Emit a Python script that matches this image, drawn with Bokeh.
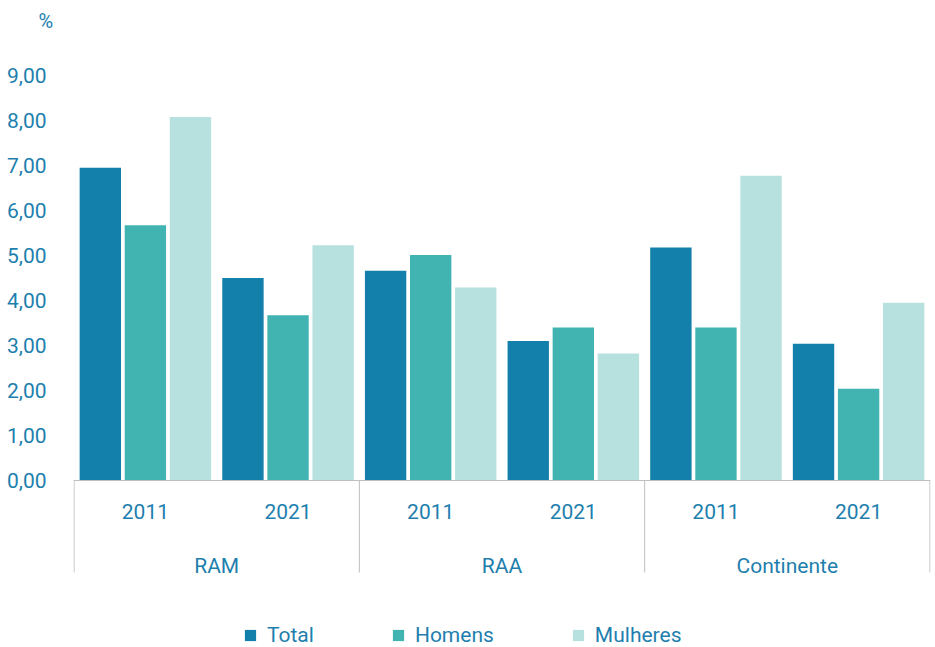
from bokeh.plotting import figure
from bokeh.models import FactorRange, Range1d, FixedTicker, ColumnDataSource, Span
from bokeh.transform import dodge
from bokeh.core.properties import value
from bokeh.embed import file_html
from bokeh.resources import INLINE

# ---------------- data ----------------
regions = ["RAM", "RAA", "Continente"]
years = ["2011", "2021"]
series_names = ["Total", "Homens", "Mulheres"]
total = [6.95, 4.50, 4.66, 3.10, 5.18, 3.04]
homens = [5.67, 3.67, 5.01, 3.40, 3.40, 2.04]
mulheres = [8.08, 5.23, 4.29, 2.82, 6.77, 3.95]
y_ticks = [0, 1, 2, 3, 4, 5, 6, 7, 8, 9]
y_tick_labels = ["0,00", "1,00", "2,00", "3,00", "4,00", "5,00", "6,00", "7,00", "8,00", "9,00"]
unit_label = "%"

# ---------------- style ----------------
COLORS = ["#137fab", "#41b3b0", "#b7e1de"]
TEXT = "#1e7fae"
LINE = "#bfbfbf"
FONT = "Roboto"

W, H = 935, 647
BORDER_L, BORDER_T, BORDER_R, BORDER_B = 73, 35, 5, 0
PX_PER_UNIT = 45.0
ZERO_Y = 480.0
frame_top = BORDER_T
frame_bottom = H - BORDER_B
y_end = (ZERO_Y - frame_top) / PX_PER_UNIT
y_start = -(frame_bottom - ZERO_Y) / PX_PER_UNIT

YEAR_LABEL_Y = -31.0 / PX_PER_UNIT
REGION_LABEL_Y = -85.0 / PX_PER_UNIT
SEP_BOTTOM_Y = -92.0 / PX_PER_UNIT

factors = [(r, y) for r in regions for y in years]
src = ColumnDataSource(dict(x=factors, Total=total, Homens=homens, Mulheres=mulheres))

x_range = FactorRange(*factors, factor_padding=0, group_padding=0, subgroup_padding=0,
                      range_padding=0.004, range_padding_units="absolute")

p = figure(width=W, height=H, x_range=x_range, y_range=Range1d(y_start, y_end),
           output_backend="svg", toolbar_location=None, x_axis_location=None,
           min_border_left=BORDER_L, min_border_top=BORDER_T,
           min_border_right=BORDER_R, min_border_bottom=BORDER_B)
p.outline_line_color = None
p.grid.visible = False

# title used as unit label "%"
p.title.text = unit_label
p.title.align = "left"
p.title.offset = -35
p.title.standoff = 5
p.title.text_font = FONT
p.title.text_font_size = "20px"
p.title.text_font_style = "normal"
p.title.text_color = TEXT

# bars
offsets = [-0.316, 0.0, 0.316]
for name, off, col in zip(series_names, offsets, COLORS):
    p.vbar(x=dodge("x", off, range=p.x_range), top=name, source=src, width=0.29,
           fill_color=col, line_color=None, legend_label=name)

# axis baseline and separators
p.add_layout(Span(location=0, dimension="width", line_color=LINE, line_width=1))
sep_x = [i * len(years) for i in range(len(regions) + 1)]
p.segment(x0=sep_x, x1=sep_x, y0=[0] * len(sep_x), y1=[SEP_BOTTOM_Y] * len(sep_x),
          line_color=LINE, line_width=1)

# category labels
year_text = [y for r in regions for y in years]
p.text(x=factors, y=[YEAR_LABEL_Y] * len(factors), text=year_text,
       text_align="center", text_baseline="middle", text_font=value(FONT),
       text_font_size="21px", text_color=TEXT)
p.text(x=regions, y=[REGION_LABEL_Y] * len(regions), text=regions,
       text_align="center", text_baseline="middle", text_font=value(FONT),
       text_font_size="21px", text_color=TEXT)

# y axis
ax = p.yaxis[0]
ax.ticker = FixedTicker(ticks=y_ticks)
ax.major_label_overrides = {t: l for t, l in zip(y_ticks, y_tick_labels)}
ax.axis_line_color = None
ax.major_tick_line_color = None
ax.minor_tick_line_color = None
ax.major_label_standoff = 21
ax.major_label_text_font = FONT
ax.major_label_text_font_size = "21px"
ax.major_label_text_color = TEXT

# legend
lg = p.legend[0]
lg.orientation = "horizontal"
lg.location = (170, 0)
lg.margin = 0
lg.padding = 0
lg.spacing = 77
lg.glyph_width = 14
lg.glyph_height = 14
lg.label_standoff = 10
lg.border_line_color = None
lg.background_fill_alpha = 0
lg.label_text_font = FONT
lg.label_text_font_size = "21px"
lg.label_text_color = TEXT

open("out.html", "w").write(file_html(p, INLINE))
